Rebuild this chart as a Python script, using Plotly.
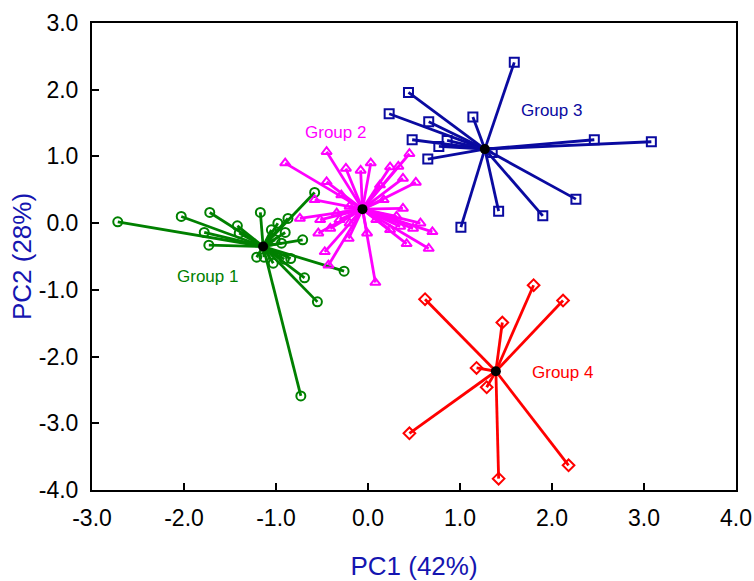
import plotly.graph_objects as go

# ---------------- data ----------------
g1_center = (-1.14, -0.35)
g1_x = [-2.72, -2.03, -1.72, -1.42, -1.78, -1.40, -1.73, -1.17, -0.58, -0.87, -0.98, -1.05,
        -0.90, -0.71, -0.94, -1.01, -1.21, -1.13, -1.03, -0.91, -0.84, -0.26, -0.69, -0.55, -0.73]
g1_y = [0.02, 0.10, 0.16, -0.04, -0.14, -0.15, -0.33, 0.16, 0.46, 0.07, 0.00, -0.10,
        -0.14, -0.25, -0.30, -0.25, -0.51, -0.51, -0.60, -0.54, -0.53, -0.72, -0.82, -1.18, -2.59]

g2_center = (-0.06, 0.21)
g2_x = [-0.90, -0.45, -0.24, -0.08, 0.03, 0.24, 0.33, 0.45, 0.38, 0.52, -0.45, -0.58, -0.29,
        -0.74, -0.54, -0.41, -0.21, -0.47, -0.43, -0.01, 0.08, 0.38, 0.57, 0.70, 0.42, 0.66,
        0.49, 0.24, 0.13, -0.34, 0.09, -0.20, 0.17, 0.31, -0.52, -0.31, 0.35, -0.20]
g2_y = [0.90, 1.07, 0.82, 0.79, 0.90, 0.84, 0.85, 1.04, 0.67, 0.61, 0.62, 0.35, 0.42,
        0.07, -0.15, -0.08, -0.23, -0.43, -0.63, -0.15, -0.89, 0.22, 0.00, -0.13, -0.31, -0.38,
        -0.08, -0.10, 0.57, 0.15, 0.05, 0.25, 0.35, 0.10, 0.05, 0.05, -0.05, 0.00]

g3_center = (1.27, 1.11)
g3_x = [1.59, 0.44, 0.23, 0.66, 1.14, 0.48, 0.86, 0.77, 0.65, 2.46, 3.08, 1.35, 2.26, 1.90, 1.42, 1.01]
g3_y = [2.41, 1.96, 1.64, 1.52, 1.59, 1.25, 1.24, 1.15, 0.96, 1.25, 1.22, 1.06, 0.36, 0.11, 0.18, -0.06]

g4_center = (1.39, -2.22)
g4_x = [1.80, 2.12, 0.62, 1.46, 1.18, 1.29, 0.45, 1.42, 2.18]
g4_y = [-0.93, -1.16, -1.14, -1.49, -2.17, -2.46, -3.15, -3.83, -3.63]

group_names = ["Group 1", "Group 2", "Group 3", "Group 4"]
label_x = [-1.75, -0.35, 1.99, 2.11]
label_y = [-0.80, 1.36, 1.69, -2.24]

tick_vals_x = [-3, -2, -1, 0, 1, 2, 3, 4]
tick_text_x = ["-3.0", "-2.0", "-1.0", "0.0", "1.0", "2.0", "3.0", "4.0"]
tick_vals_y = [-4, -3, -2, -1, 0, 1, 2, 3]
tick_text_y = ["-4.0", "-3.0", "-2.0", "-1.0", "0.0", "1.0", "2.0", "3.0"]

# ---------------- styles ----------------
groups = [
    (g1_center, g1_x, g1_y, "#008000", "circle-open"),
    (g2_center, g2_x, g2_y, "#ff00ff", "triangle-up-open"),
    (g3_center, g3_x, g3_y, "#0a0aa0", "square-open"),
    (g4_center, g4_x, g4_y, "#ff0000", "diamond-open"),
]

fig = go.Figure()
for (c, xs, ys, col, sym) in groups:
    lx, ly = [], []
    for x, y in zip(xs, ys):
        lx += [c[0], x, None]
        ly += [c[1], y, None]
    fig.add_trace(go.Scatter(x=lx, y=ly, mode="lines",
                             line=dict(color=col, width=2.8), hoverinfo="skip",
                             showlegend=False))
    fig.add_trace(go.Scatter(x=xs, y=ys, mode="markers",
                             marker=dict(symbol=sym, size=9, color=col,
                                         line=dict(color=col, width=2)),
                             showlegend=False))

for (c, xs, ys, col, sym) in groups:
    fig.add_trace(go.Scatter(x=[c[0]], y=[c[1]], mode="markers",
                             marker=dict(symbol="circle", size=10, color="black"),
                             showlegend=False))

for name, x, y, (_, _, _, col, _) in zip(group_names, label_x, label_y, groups):
    fig.add_annotation(x=x, y=y, text=name, showarrow=False,
                       font=dict(family="Liberation Sans, Arial", size=17, color=col))

axis_common = dict(showline=True, linewidth=2, linecolor="black", mirror=True,
                   ticks="inside", ticklen=7, tickwidth=2, tickcolor="black",
                   showgrid=False, zeroline=False, automargin=False,
                   tickfont=dict(family="Liberation Sans, Arial", size=23, color="black"))

fig.update_xaxes(range=[-3, 4], tickvals=tick_vals_x, ticktext=tick_text_x,
                 ticklabelstandoff=6,
                 title=dict(text="PC1 (42%)", standoff=30,
                            font=dict(family="Liberation Sans, Arial", size=26, color="#1515b0")),
                 **axis_common)
fig.update_yaxes(range=[-4, 3], tickvals=tick_vals_y, ticktext=tick_text_y,
                 ticklabelstandoff=7,
                 title=dict(text="PC2 (28%)", standoff=0,
                            font=dict(family="Liberation Sans, Arial", size=26, color="#1515b0")),
                 **axis_common)

fig.update_layout(width=754, height=581,
                  margin=dict(l=92, r=18, t=23, b=91),
                  plot_bgcolor="white", paper_bgcolor="white",
                  showlegend=False)

# remove the default page margin so the 754x581 figure fills the window exactly
fig.write_html("out.html",
               config={"displayModeBar": False},
               post_script="document.body.style.margin='0';document.body.style.overflow='hidden';")
